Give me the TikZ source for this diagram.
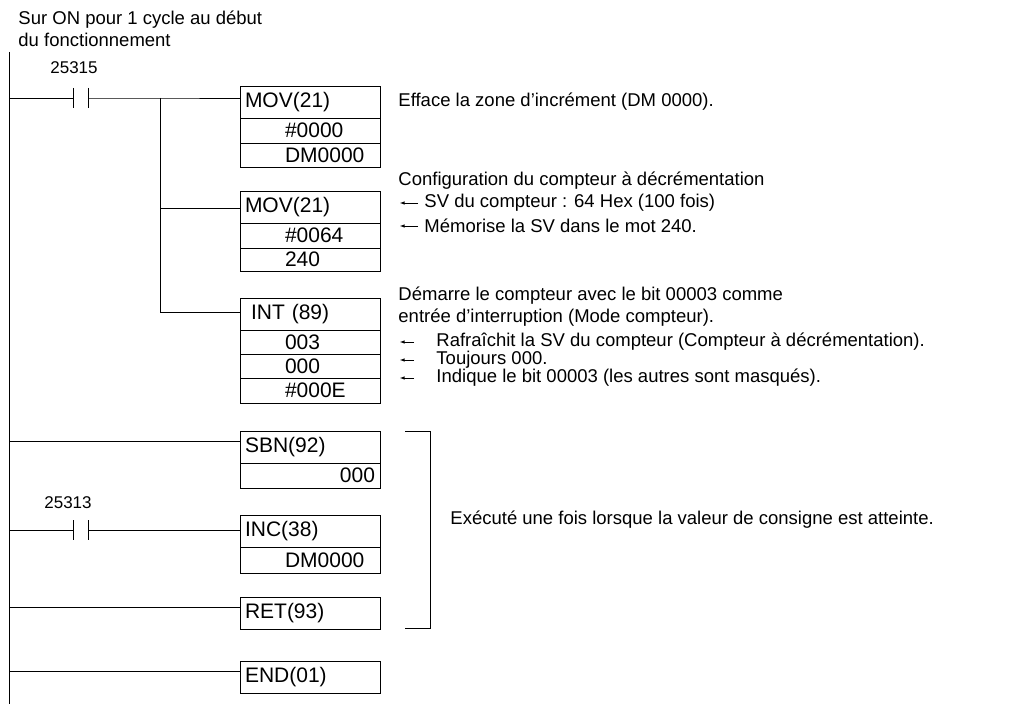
\documentclass[tikz,border=0pt]{standalone}
\usepackage{fontspec}
\setmainfont{Liberation Sans}
\usetikzlibrary{positioning}

\begin{document}
\begin{tikzpicture}[
		x=1pt, y=-1pt,
		line width=0.9pt,
		every node/.style={font=\fontsize{18.5}{22}\selectfont},
		Row/.style={draw, text width=130pt, inner xsep=5pt, inner ysep=0pt, outer sep=0pt,
			anchor=north west, align=left, font=\fontsize{21}{22}\selectfont},
		Op/.style={Row, align=left, execute at begin node=\hspace*{40pt}},
		Note/.style={anchor=west, inner sep=0pt},
		Tag/.style={font=\fontsize{17}{19}\selectfont, inner sep=0pt}
		]
		
		\useasboundingbox (0,0) rectangle (1017,706);
		
		% commentaire en tete
		\node [Note, align=left] (head) at (18,29)
		{Sur ON pour 1 cycle au d\'ebut\\du fonctionnement};
		
		% rail gauche
		\coordinate (RailTop) at (9,52);
		\coordinate (RailBot) at (9,704);
		\draw (RailTop) -- (RailBot);
		
		% blocs d'instructions
		\node [Row, minimum height=32pt] (MOV1) at (240,86) {MOV(21)};
		\node [Op, minimum height=25pt, below=0pt of MOV1.south west, anchor=north west] (MOV1a) {\#0000};
		\node [Op, minimum height=24pt, below=0pt of MOV1a.south west, anchor=north west] (MOV1b) {DM0000};
		
		\node [Row, minimum height=32pt] (MOV2) at (240,191) {MOV(21)};
		\node [Op, minimum height=25pt, below=0pt of MOV2.south west, anchor=north west] (MOV2a) {\#0064};
		\node [Op, minimum height=23pt, below=0pt of MOV2a.south west, anchor=north west] (MOV2b) {240};
		
		\node [Row, minimum height=32pt] (INT) at (240,298) {\hspace*{6pt}INT (89)};
		\node [Op, minimum height=24pt, below=0pt of INT.south west, anchor=north west] (INTa) {003};
		\node [Op, minimum height=24pt, below=0pt of INTa.south west, anchor=north west] (INTb) {000};
		\node [Op, minimum height=25pt, below=0pt of INTb.south west, anchor=north west] (INTc) {\#000E};
		
		\node [Row, minimum height=32pt] (SBN) at (240,431) {SBN(92)};
		\node [Row, align=right, minimum height=25pt, below=0pt of SBN.south west, anchor=north west] (SBNa) {000};
		
		\node [Row, minimum height=32pt] (INC) at (240,515) {INC(38)};
		\node [Op, minimum height=26pt, below=0pt of INC.south west, anchor=north west] (INCa) {DM0000};
		
		\node [Row, minimum height=32pt] (RET) at (240,597) {RET(93)};
		\node [Row, minimum height=32pt] (END) at (240,661) {END(01)};
		
		% contacts
		\coordinate (C1a) at (73,98);
		\coordinate (C1b) at (88,98);
		\coordinate (C2a) at (73,530);
		\coordinate (C2b) at (88,530);
		\draw (C1a) ++(0,-10) -- ++(0,20) (C1b) ++(0,-10) -- ++(0,20);
		\draw (C2a) ++(0,-10) -- ++(0,20) (C2b) ++(0,-10) -- ++(0,20);
		\node [Tag] (T1) at (74,68) {25315};
		\node [Tag] (T2) at (68,503) {25313};
		
		% liaisons
		\coordinate (B1) at (160,98);
		\coordinate (B2) at (160,208);
		\coordinate (B3) at (160,312);
		\draw
		(9,98) -- (C1a) (C1b) -- (B1) -- (MOV1.west |- B1)
		(B1) -- (B3) -- (INT.west |- B3)
		(B2) -- (MOV2.west |- B2)
		(9,441) -- (SBN.west |- 0,441)
		(9,530) -- (C2a) (C2b) -- (INC.west |- C2b)
		(9,607) -- (RET.west |- 0,607)
		(9,671) -- (END.west |- 0,671);
		
		% accolade
		\coordinate (K1) at (405,431);
		\coordinate (K2) at (405,628);
		\draw (K1) -- ++(25,0) |- (K2);
		
		% commentaires
		\node [Note] (N1) at (398,102) {Efface la zone d'incr\'ement (DM 0000).};
		\node [Note] (N2) at (398,181) {Configuration du compteur \`a d\'ecr\'ementation};
		\node [Note] (N3) at (424,203) {SV du compteur : 64 Hex (100 fois)};
		\node [Note] (N4) at (424,226) {M\'emorise la SV dans le mot 240.};
		\node [Note, align=left] (N5) at (398,307) {D\'emarre le compteur avec le bit 00003 comme\\entr\'ee d'interruption (Mode compteur).};
		\node [Note] (N6) at (436,342) {Rafra\^ichit la SV du compteur (Compteur \`a d\'ecr\'ementation).};
		\node [Note] (N7) at (436,360) {Toujours 000.};
		\node [Note] (N8) at (436,378) {Indique le bit 00003 (les autres sont masqu\'es).};
		\node [Note] (N9) at (450,520) {Ex\'ecut\'e une fois lorsque la valeur de consigne est atteinte.};
		
		% fleches
		\foreach \n/\x in {N3/418, N4/418, N6/414, N7/414, N8/414}
		\draw [-latex, line width=0.6pt] (\x,0 |- \n.west) -- (400,0 |- \n.west);
	\end{tikzpicture}
\end{document}
